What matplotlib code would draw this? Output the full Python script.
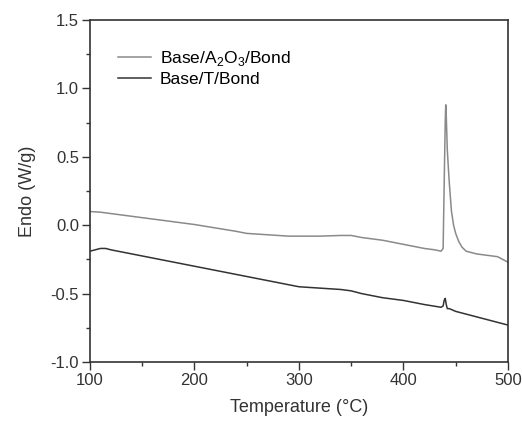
import numpy as np
import matplotlib.pyplot as plt
from matplotlib.ticker import MultipleLocator

plt.rcParams['font.family'] = ['Liberation Sans', 'DejaVu Sans']
plt.rcParams['mathtext.fontset'] = 'custom'
plt.rcParams['mathtext.rm'] = 'Liberation Sans'

# ==========================================
# Data
# ==========================================
temp_a = [100, 110, 120, 140, 160, 180, 200, 220, 240, 250, 270, 290, 300, 320, 340,
          350, 360, 380, 400, 420, 430, 436, 438, 439, 440, 440.5, 441, 442, 443, 444,
          445, 446, 448, 450, 453, 456, 460, 465, 470, 480, 490, 495, 500]
endo_a = [0.10, 0.095, 0.085, 0.065, 0.045, 0.025, 0.005, -0.02, -0.045, -0.06, -0.07,
          -0.08, -0.08, -0.08, -0.075, -0.075, -0.09, -0.11, -0.14, -0.17, -0.18, -0.19,
          -0.17, 0.30, 0.75, 0.88, 0.80, 0.55, 0.42, 0.30, 0.20, 0.10, 0.0, -0.06, -0.12,
          -0.16, -0.19, -0.20, -0.21, -0.22, -0.23, -0.25, -0.27]

temp_t = [100, 105, 110, 115, 120, 140, 160, 180, 200, 220, 240, 260, 280, 300, 320,
          340, 350, 360, 380, 400, 420, 436, 438, 439, 440, 441, 442, 444, 450, 460,
          470, 480, 490, 500]
endo_t = [-0.19, -0.18, -0.17, -0.17, -0.18, -0.21, -0.24, -0.27, -0.30, -0.33, -0.36,
          -0.39, -0.42, -0.45, -0.46, -0.47, -0.48, -0.50, -0.53, -0.55, -0.58, -0.60,
          -0.59, -0.55, -0.535, -0.58, -0.61, -0.61, -0.63, -0.65, -0.67, -0.69, -0.71,
          -0.73]

labels = ['Base/A$_2$O$_3$/Bond', 'Base/T/Bond']

# ==========================================
# Plot
# ==========================================
fig = plt.figure(figsize=(5.22, 4.22), dpi=100)
ax = fig.add_axes([0.1724, 0.1422, 0.8006, 0.8104])

ax.plot(temp_a, endo_a, color='#8a8a8a', lw=1.1, label=labels[0])
ax.plot(temp_t, endo_t, color='#333333', lw=1.1, label=labels[1])

ax.set_xlim(100, 500)
ax.set_ylim(-1.0, 1.5)
ax.xaxis.set_major_locator(MultipleLocator(100))
ax.xaxis.set_minor_locator(MultipleLocator(50))
ax.yaxis.set_major_locator(MultipleLocator(0.5))
ax.yaxis.set_minor_locator(MultipleLocator(0.25))
ax.yaxis.set_major_formatter(plt.FormatStrFormatter('%.1f'))
ax.tick_params(which='major', direction='out', length=6, width=1, labelsize=12,
               colors='#333333', pad=2)
ax.tick_params(which='minor', direction='out', length=3, width=1, colors='#333333')
for s in ax.spines.values():
    s.set_linewidth(1.2)
    s.set_color('#333333')

ax.set_xlabel('Temperature (°C)', fontsize=13, color='#333333', labelpad=8)
ax.set_ylabel('Endo (W/g)', fontsize=13, color='#333333', labelpad=10)

ax.legend(loc='upper left', bbox_to_anchor=(0.03, 0.96), frameon=False,
          fontsize=12.5, handlelength=1.9, handletextpad=0.5, labelspacing=0.2)

fig.savefig('out.png', dpi=100)
